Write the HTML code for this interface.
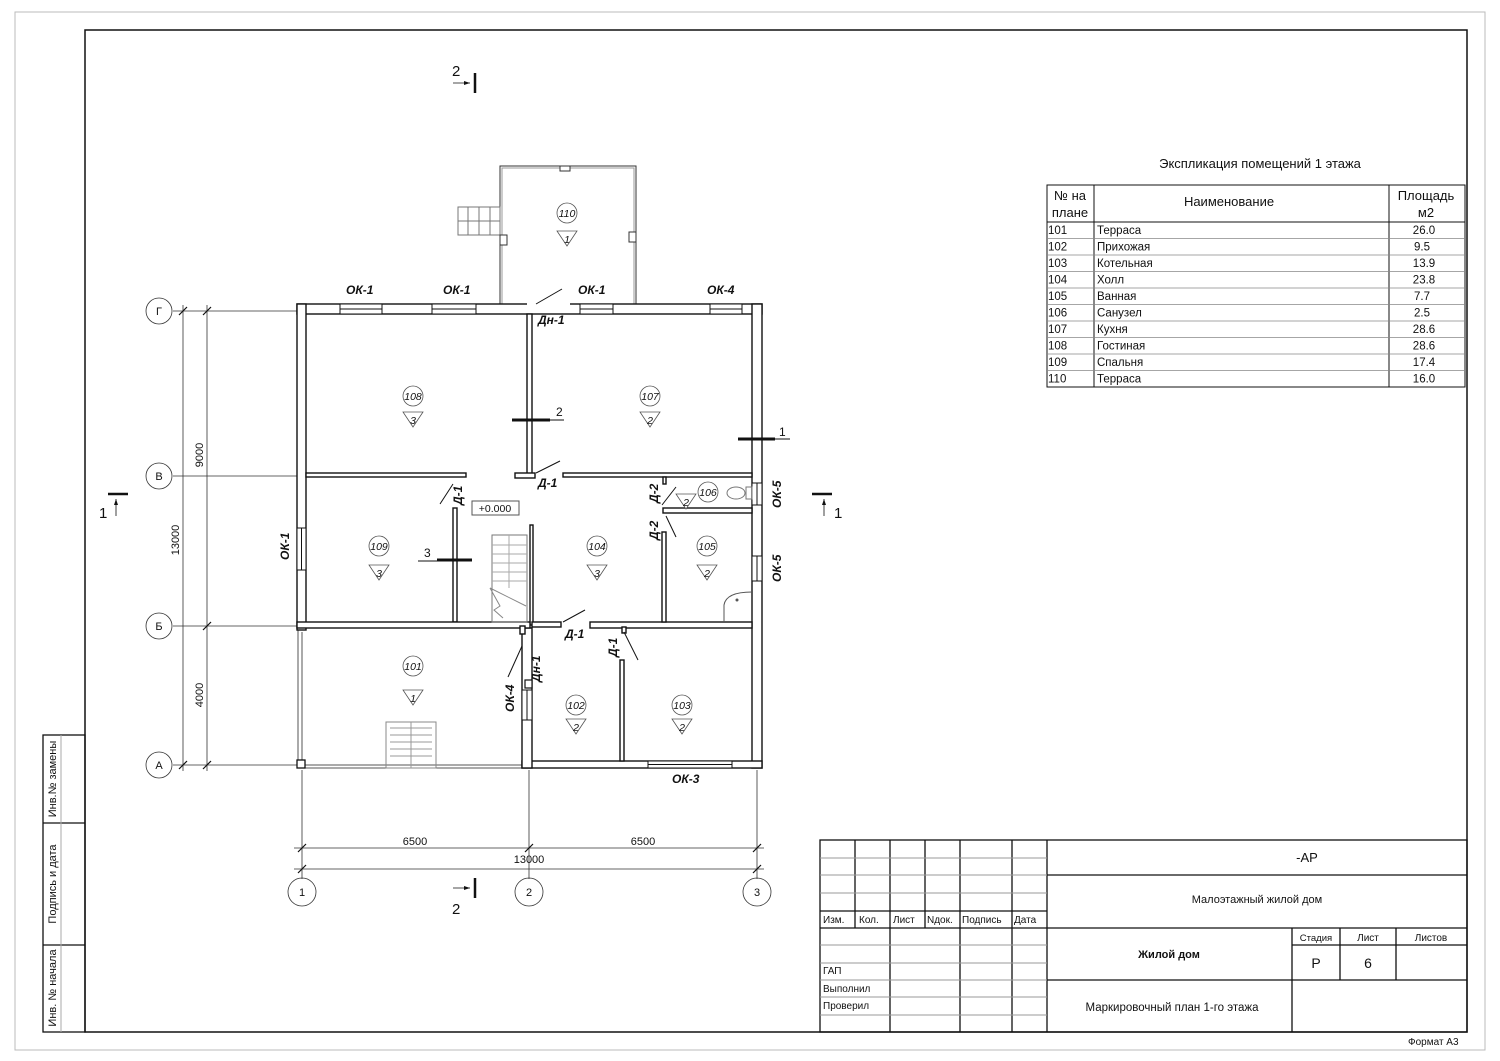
<!DOCTYPE html>
<html><head><meta charset="utf-8"><style>
html,body{margin:0;padding:0;background:#fff}
svg{display:block}
text{font-family:"Liberation Sans",sans-serif;fill:#111}
</style></head><body>
<svg width="1500" height="1061" viewBox="0 0 1500 1061" xmlns="http://www.w3.org/2000/svg">
<rect x="15" y="12" width="1470" height="1038" fill="none" stroke="#bbb" stroke-width="1"/>
<rect x="85" y="30" width="1382" height="1002" fill="none" stroke="#111" stroke-width="1.5"/>

<g stroke="#111" stroke-width="1.3" fill="none">
<rect x="43" y="735" width="42" height="297"/>
<line x1="43" y1="823" x2="85" y2="823"/><line x1="43" y1="945" x2="85" y2="945"/>
</g>
<line x1="61" y1="735" x2="61" y2="1032" stroke="#aaa" stroke-width="1"/>
<text transform="translate(56,779) rotate(-90)" font-size="11" text-anchor="middle">Инв.№ замены</text>
<text transform="translate(56,884) rotate(-90)" font-size="11" text-anchor="middle">Подпись и дата</text>
<text transform="translate(56,988) rotate(-90)" font-size="11" text-anchor="middle">Инв. № начала</text>

<g stroke="#111" stroke-width="1.3" fill="none">
<rect x="820" y="840" width="647" height="192"/>
<line x1="1047" y1="840" x2="1047" y2="1032"/>
<line x1="1047" y1="875" x2="1467" y2="875"/>
<line x1="1047" y1="928" x2="1467" y2="928"/>
<line x1="1292" y1="928" x2="1292" y2="1032"/>
<line x1="1340" y1="928" x2="1340" y2="980"/>
<line x1="1396" y1="928" x2="1396" y2="980"/>
<line x1="1292" y1="945" x2="1467" y2="945"/>
<line x1="1047" y1="980" x2="1467" y2="980"/>
<line x1="855" y1="840" x2="855" y2="928"/>
<line x1="890" y1="840" x2="890" y2="1032"/>
<line x1="925" y1="840" x2="925" y2="928"/>
<line x1="960" y1="840" x2="960" y2="1032"/>
<line x1="1012" y1="840" x2="1012" y2="1032"/>
<line x1="820" y1="911" x2="1047" y2="911"/>
<line x1="820" y1="928" x2="1047" y2="928"/>
</g>
<g stroke="#999" stroke-width="1">
<line x1="820" y1="858" x2="1047" y2="858"/><line x1="820" y1="875" x2="1047" y2="875"/><line x1="820" y1="893" x2="1047" y2="893"/>
<line x1="820" y1="945" x2="1047" y2="945"/><line x1="820" y1="963" x2="1047" y2="963"/><line x1="820" y1="980" x2="1047" y2="980"/>
<line x1="820" y1="997" x2="1047" y2="997"/><line x1="820" y1="1015" x2="1047" y2="1015"/>
</g>
<g font-size="10">
<text x="823" y="923">Изм.</text><text x="859" y="923">Кол.</text><text x="893" y="923">Лист</text><text x="927" y="923">Nдок.</text><text x="962" y="923">Подпись</text><text x="1014" y="923">Дата</text>
<text x="823" y="974">ГАП</text><text x="823" y="992">Выполнил</text><text x="823" y="1009">Проверил</text>
<text x="1316" y="941" text-anchor="middle" font-size="9.5">Стадия</text><text x="1368" y="941" text-anchor="middle">Лист</text><text x="1431" y="941" text-anchor="middle">Листов</text>
<text x="1408" y="1045">Формат А3</text>
</g>
<text x="1307" y="862" font-size="13" text-anchor="middle">-АР</text>
<text x="1257" y="903" font-size="11" text-anchor="middle">Малоэтажный жилой дом</text>
<text x="1169" y="958" font-size="11" text-anchor="middle" font-weight="bold">Жилой дом</text>
<text x="1316" y="968" font-size="14" text-anchor="middle">Р</text>
<text x="1368" y="968" font-size="14" text-anchor="middle">6</text>
<text x="1172" y="1011" font-size="11.5" text-anchor="middle">Маркировочный план 1-го этажа</text>

<text x="1260" y="168" font-size="13" text-anchor="middle">Экспликация  помещений 1 этажа</text>
<g stroke="#111" stroke-width="1" fill="none">
<rect x="1047" y="185" width="418" height="202"/>
<line x1="1094" y1="185" x2="1094" y2="387"/><line x1="1389" y1="185" x2="1389" y2="387"/>
<line x1="1047" y1="222" x2="1465" y2="222"/>
</g>
<g stroke="#888" stroke-width="0.8">
<line x1="1047" y1="238.5" x2="1465" y2="238.5"/><line x1="1047" y1="255" x2="1465" y2="255"/><line x1="1047" y1="271.5" x2="1465" y2="271.5"/><line x1="1047" y1="288" x2="1465" y2="288"/><line x1="1047" y1="304.5" x2="1465" y2="304.5"/><line x1="1047" y1="321" x2="1465" y2="321"/><line x1="1047" y1="337.5" x2="1465" y2="337.5"/><line x1="1047" y1="354" x2="1465" y2="354"/><line x1="1047" y1="370.5" x2="1465" y2="370.5"/>
</g>
<g font-size="13">
<text x="1070" y="200" text-anchor="middle">№ на</text><text x="1070" y="217" text-anchor="middle">плане</text>
<text x="1229" y="206" text-anchor="middle">Наименование</text>
<text x="1426" y="200" text-anchor="middle">Площадь</text><text x="1426" y="217" text-anchor="middle">м2</text>
</g>
<g font-size="11.5">
<text x="1048" y="234">101</text><text x="1097" y="234">Терраса</text><text x="1424" y="234" text-anchor="middle">26.0</text>
<text x="1048" y="250.5">102</text><text x="1097" y="250.5">Прихожая</text><text x="1422" y="250.5" text-anchor="middle">9.5</text>
<text x="1048" y="267">103</text><text x="1097" y="267">Котельная</text><text x="1424" y="267" text-anchor="middle">13.9</text>
<text x="1048" y="283.5">104</text><text x="1097" y="283.5">Холл</text><text x="1424" y="283.5" text-anchor="middle">23.8</text>
<text x="1048" y="300">105</text><text x="1097" y="300">Ванная</text><text x="1422" y="300" text-anchor="middle">7.7</text>
<text x="1048" y="316.5">106</text><text x="1097" y="316.5">Санузел</text><text x="1422" y="316.5" text-anchor="middle">2.5</text>
<text x="1048" y="333">107</text><text x="1097" y="333">Кухня</text><text x="1424" y="333" text-anchor="middle">28.6</text>
<text x="1048" y="349.5">108</text><text x="1097" y="349.5">Гостиная</text><text x="1424" y="349.5" text-anchor="middle">28.6</text>
<text x="1048" y="366">109</text><text x="1097" y="366">Спальня</text><text x="1424" y="366" text-anchor="middle">17.4</text>
<text x="1048" y="382.5">110</text><text x="1097" y="382.5">Терраса</text><text x="1424" y="382.5" text-anchor="middle">16.0</text>
</g>

<g stroke="#333" stroke-width="0.8" fill="none">
<line x1="173" y1="311" x2="300" y2="311"/><line x1="173" y1="476" x2="300" y2="476"/><line x1="173" y1="626" x2="300" y2="626"/><line x1="173" y1="765" x2="300" y2="765"/>
<line x1="183" y1="305" x2="183" y2="771"/><line x1="207" y1="305" x2="207" y2="771"/>
<line x1="302" y1="770" x2="302" y2="879"/><line x1="529" y1="770" x2="529" y2="879"/><line x1="757" y1="770" x2="757" y2="879"/>
<line x1="294" y1="848" x2="764" y2="848"/><line x1="294" y1="869" x2="764" y2="869"/>
<circle cx="159" cy="311" r="13"/><circle cx="159" cy="476" r="13"/><circle cx="159" cy="626" r="13"/><circle cx="159" cy="765" r="13"/>
<circle cx="302" cy="892" r="14"/><circle cx="529" cy="892" r="14"/><circle cx="757" cy="892" r="14"/>
</g>
<g stroke="#111" stroke-width="1.2">
<line x1="179" y1="315" x2="187" y2="307"/><line x1="179" y1="769" x2="187" y2="761"/>
<line x1="203" y1="315" x2="211" y2="307"/><line x1="203" y1="630" x2="211" y2="622"/><line x1="203" y1="769" x2="211" y2="761"/>
<line x1="298" y1="852" x2="306" y2="844"/><line x1="525" y1="852" x2="533" y2="844"/><line x1="753" y1="852" x2="761" y2="844"/>
<line x1="298" y1="873" x2="306" y2="865"/><line x1="753" y1="873" x2="761" y2="865"/>
</g>
<g font-size="11" text-anchor="middle">
<text x="159" y="315">Г</text><text x="159" y="480">В</text><text x="159" y="630">Б</text><text x="159" y="769">А</text>
<text x="302" y="896">1</text><text x="529" y="896">2</text><text x="757" y="896">3</text>
<text x="415" y="845">6500</text><text x="643" y="845">6500</text><text x="529" y="863">13000</text>
<text transform="translate(203,455) rotate(-90)">9000</text>
<text transform="translate(179,540) rotate(-90)">13000</text>
<text transform="translate(203,695) rotate(-90)">4000</text>
</g>

<g stroke="#111" fill="none">
<line x1="475" y1="73" x2="475" y2="93" stroke-width="2.5"/><line x1="453" y1="83" x2="470" y2="83" stroke-width="0.8"/>
<line x1="475" y1="878" x2="475" y2="898" stroke-width="2.5"/><line x1="453" y1="888" x2="470" y2="888" stroke-width="0.8"/>
<line x1="108" y1="494" x2="128" y2="494" stroke-width="2.5"/><line x1="116" y1="499" x2="116" y2="516" stroke-width="0.8"/>
<line x1="812" y1="494" x2="832" y2="494" stroke-width="2.5"/><line x1="824" y1="499" x2="824" y2="516" stroke-width="0.8"/>
</g>
<g fill="#111"><path d="M470 83 l-6 -2 v4z"/><path d="M470 888 l-6 -2 v4z"/><path d="M116 499 l-2 6 h4z"/><path d="M824 499 l-2 6 h4z"/></g>
<g font-size="15" fill="#444">
<text x="452" y="76">2</text><text x="452" y="914">2</text><text x="99" y="518">1</text><text x="834" y="518">1</text>
</g>

<g stroke="#333" stroke-width="1" fill="none">
<rect x="500" y="166" width="136" height="139"/>
<rect x="502" y="168" width="132" height="136" stroke="#999"/>
<rect x="458" y="207" width="42" height="28" stroke="#777"/>
<line x1="458" y1="221" x2="500" y2="221" stroke="#777"/>
<line x1="468" y1="207" x2="468" y2="235" stroke="#777"/><line x1="479" y1="207" x2="479" y2="235" stroke="#777"/><line x1="490" y1="207" x2="490" y2="235" stroke="#777"/>
<rect x="560" y="166" width="10" height="5" fill="#fff"/>
<rect x="629" y="232" width="7" height="10" fill="#fff"/><rect x="500" y="235" width="7" height="10" fill="#fff"/>
</g>

<g stroke="#555" stroke-width="1" fill="none">
<line x1="298" y1="630" x2="298" y2="768"/><line x1="302" y1="632" x2="302" y2="766"/>
<line x1="297" y1="768" x2="525" y2="768"/><line x1="305" y1="765" x2="525" y2="765"/>
<rect x="386" y="722" width="50" height="46" stroke="#888"/>
<line x1="390" y1="728" x2="432" y2="728" stroke="#999"/><line x1="390" y1="735" x2="432" y2="735" stroke="#999"/><line x1="390" y1="742" x2="432" y2="742" stroke="#999"/><line x1="390" y1="749" x2="432" y2="749" stroke="#999"/><line x1="390" y1="756" x2="432" y2="756" stroke="#999"/>
<line x1="411" y1="722" x2="411" y2="768" stroke="#999"/>
</g>
<rect x="297" y="760" width="8" height="8" fill="#fff" stroke="#111" stroke-width="1.3"/>

<g fill="#fff" stroke="#111" stroke-width="1.4">
<rect x="297" y="304" width="465" height="10"/>
<rect x="297" y="304" width="9" height="326"/>
<rect x="752" y="304" width="10" height="464"/>
<rect x="522" y="761" width="240" height="7"/>
<rect x="522" y="628" width="10" height="140"/>
<rect x="527" y="314" width="5" height="160"/>
<rect x="515" y="473" width="20" height="5"/>
<rect x="306" y="473" width="160" height="4"/>
<rect x="563" y="473" width="189" height="4"/>
<rect x="453" y="508" width="4" height="114"/>
<rect x="530" y="525" width="3" height="100"/>
<rect x="297" y="622" width="233" height="6"/>
<rect x="532" y="622" width="29" height="5"/>
<rect x="590" y="622" width="162" height="6"/>
<rect x="662" y="532" width="4" height="90"/>
<rect x="663" y="508" width="89" height="5"/>
<rect x="663" y="477" width="3" height="7"/>
<rect x="620" y="660" width="4" height="101"/>
<rect x="622" y="627" width="4" height="6"/>
<rect x="520" y="626" width="5" height="8"/>
</g>
<g fill="#fff" stroke="#111" stroke-width="1">
<rect x="340" y="304" width="42" height="10"/><line x1="340" y1="309" x2="382" y2="309"/>
<rect x="432" y="304" width="44" height="10"/><line x1="432" y1="309" x2="476" y2="309"/>
<rect x="580" y="304" width="33" height="10"/><line x1="580" y1="309" x2="613" y2="309"/>
<rect x="710" y="304" width="32" height="10"/><line x1="710" y1="309" x2="742" y2="309"/>
<rect x="297" y="528" width="9" height="42"/><line x1="301.5" y1="528" x2="301.5" y2="570"/>
<rect x="752" y="483" width="10" height="22"/><line x1="757" y1="483" x2="757" y2="505"/>
<rect x="752" y="556" width="10" height="25"/><line x1="757" y1="556" x2="757" y2="581"/>
<rect x="522" y="690" width="10" height="30"/><line x1="527" y1="690" x2="527" y2="720"/>
<rect x="527" y="299" width="43" height="6" stroke="none"/>
<rect x="648" y="761" width="84" height="7"/><line x1="648" y1="764.5" x2="732" y2="764.5"/>
</g>
<rect x="525" y="680" width="7" height="8" fill="#fff" stroke="#111" stroke-width="1.2"/>
<g stroke="#111" stroke-width="1" fill="none">
<line x1="536" y1="304" x2="562" y2="289"/>
<line x1="536" y1="473" x2="560" y2="461"/>
<line x1="440" y1="504" x2="453" y2="484"/>
<line x1="662" y1="505" x2="676" y2="487"/>
<line x1="666" y1="516" x2="676" y2="537"/>
<line x1="563" y1="622" x2="585" y2="610"/>
<line x1="624" y1="632" x2="638" y2="660"/>
<line x1="522" y1="646" x2="508" y2="677"/>
<rect x="492" y="535" width="35" height="87" stroke="#777"/>
<line x1="492" y1="545" x2="527" y2="545" stroke="#aaa"/><line x1="492" y1="554" x2="527" y2="554" stroke="#aaa"/><line x1="492" y1="563" x2="527" y2="563" stroke="#aaa"/><line x1="492" y1="572" x2="527" y2="572" stroke="#aaa"/><line x1="492" y1="581" x2="527" y2="581" stroke="#aaa"/>
<line x1="509" y1="535" x2="509" y2="588" stroke="#aaa"/>
<polyline points="490,588 500,606 494,610 503,618" stroke="#888"/>
<line x1="490" y1="588" x2="526" y2="606" stroke="#888"/>
<line x1="512" y1="420" x2="550" y2="420" stroke-width="3"/><line x1="550" y1="420" x2="564" y2="420"/>
<line x1="738" y1="439" x2="775" y2="439" stroke-width="3"/><line x1="775" y1="439" x2="790" y2="439"/>
<line x1="437" y1="560" x2="472" y2="560" stroke-width="3"/><line x1="418" y1="561" x2="437" y2="561"/>
<ellipse cx="736" cy="493" rx="9" ry="6" stroke="#777"/><rect x="746" y="487" width="6" height="12" stroke="#777"/>
<path d="M724 622 V605 Q726 592 752 592" stroke="#555"/>
</g>
<circle cx="737" cy="600" r="1.5" fill="#555"/>
<rect x="472" y="501" width="47" height="14" fill="#fff" stroke="#555" stroke-width="1"/>
<text x="495" y="512" font-size="10.5" text-anchor="middle">+0.000</text>
<text x="556" y="416" font-size="12">2</text><text x="779" y="436" font-size="12">1</text><text x="424" y="557" font-size="12">3</text>

<g stroke="#555" stroke-width="0.8" fill="#fff">
<circle cx="413" cy="396" r="10"/><path d="M403 412 h20 l-10 15z"/>
<circle cx="650" cy="396" r="10"/><path d="M640 412 h20 l-10 15z"/>
<circle cx="379" cy="546" r="10"/><path d="M369 565 h20 l-10 15z"/>
<circle cx="597" cy="546" r="10"/><path d="M587 565 h20 l-10 15z"/>
<circle cx="707" cy="546" r="10"/><path d="M697 565 h20 l-10 15z"/>
<circle cx="708" cy="492" r="10"/><path d="M676 494 h20 l-10 15z"/>
<circle cx="413" cy="666" r="10"/><path d="M403 690 h20 l-10 15z"/>
<circle cx="576" cy="705" r="10"/><path d="M566 719 h20 l-10 15z"/>
<circle cx="682" cy="705" r="10"/><path d="M672 719 h20 l-10 15z"/>
<circle cx="567" cy="213" r="10"/><path d="M557 231 h20 l-10 15z"/>
</g>
<g font-size="10.5" text-anchor="middle" font-style="italic">
<text x="413" y="400">108</text><text x="413" y="424">3</text>
<text x="650" y="400">107</text><text x="650" y="424">2</text>
<text x="379" y="550">109</text><text x="379" y="577">3</text>
<text x="597" y="550">104</text><text x="597" y="577">3</text>
<text x="707" y="550">105</text><text x="707" y="577">2</text>
<text x="708" y="496">106</text><text x="686" y="506">2</text>
<text x="413" y="670">101</text><text x="413" y="702">1</text>
<text x="576" y="709">102</text><text x="576" y="731">2</text>
<text x="682" y="709">103</text><text x="682" y="731">2</text>
<text x="567" y="217">110</text><text x="567" y="243">1</text>
</g>
<g font-size="12" font-style="italic" font-weight="bold" fill="#111">
<text x="346" y="294">ОК-1</text><text x="443" y="294">ОК-1</text><text x="578" y="294">ОК-1</text><text x="707" y="294">ОК-4</text>
<text x="538" y="324">Дн-1</text>
<text x="538" y="487">Д-1</text>
<text x="565" y="638">Д-1</text>
<text x="672" y="783">ОК-3</text>
<text transform="translate(289,560) rotate(-90)">ОК-1</text>
<text transform="translate(462,505) rotate(-90)">Д-1</text>
<text transform="translate(658,503) rotate(-90)">Д-2</text>
<text transform="translate(658,540) rotate(-90)">Д-2</text>
<text transform="translate(781,508) rotate(-90)">ОК-5</text>
<text transform="translate(781,582) rotate(-90)">ОК-5</text>
<text transform="translate(617,657) rotate(-90)">Д-1</text>
<text transform="translate(540,682) rotate(-90)">Дн-1</text>
<text transform="translate(514,712) rotate(-90)">ОК-4</text>
</g>
</svg>
</body></html>
